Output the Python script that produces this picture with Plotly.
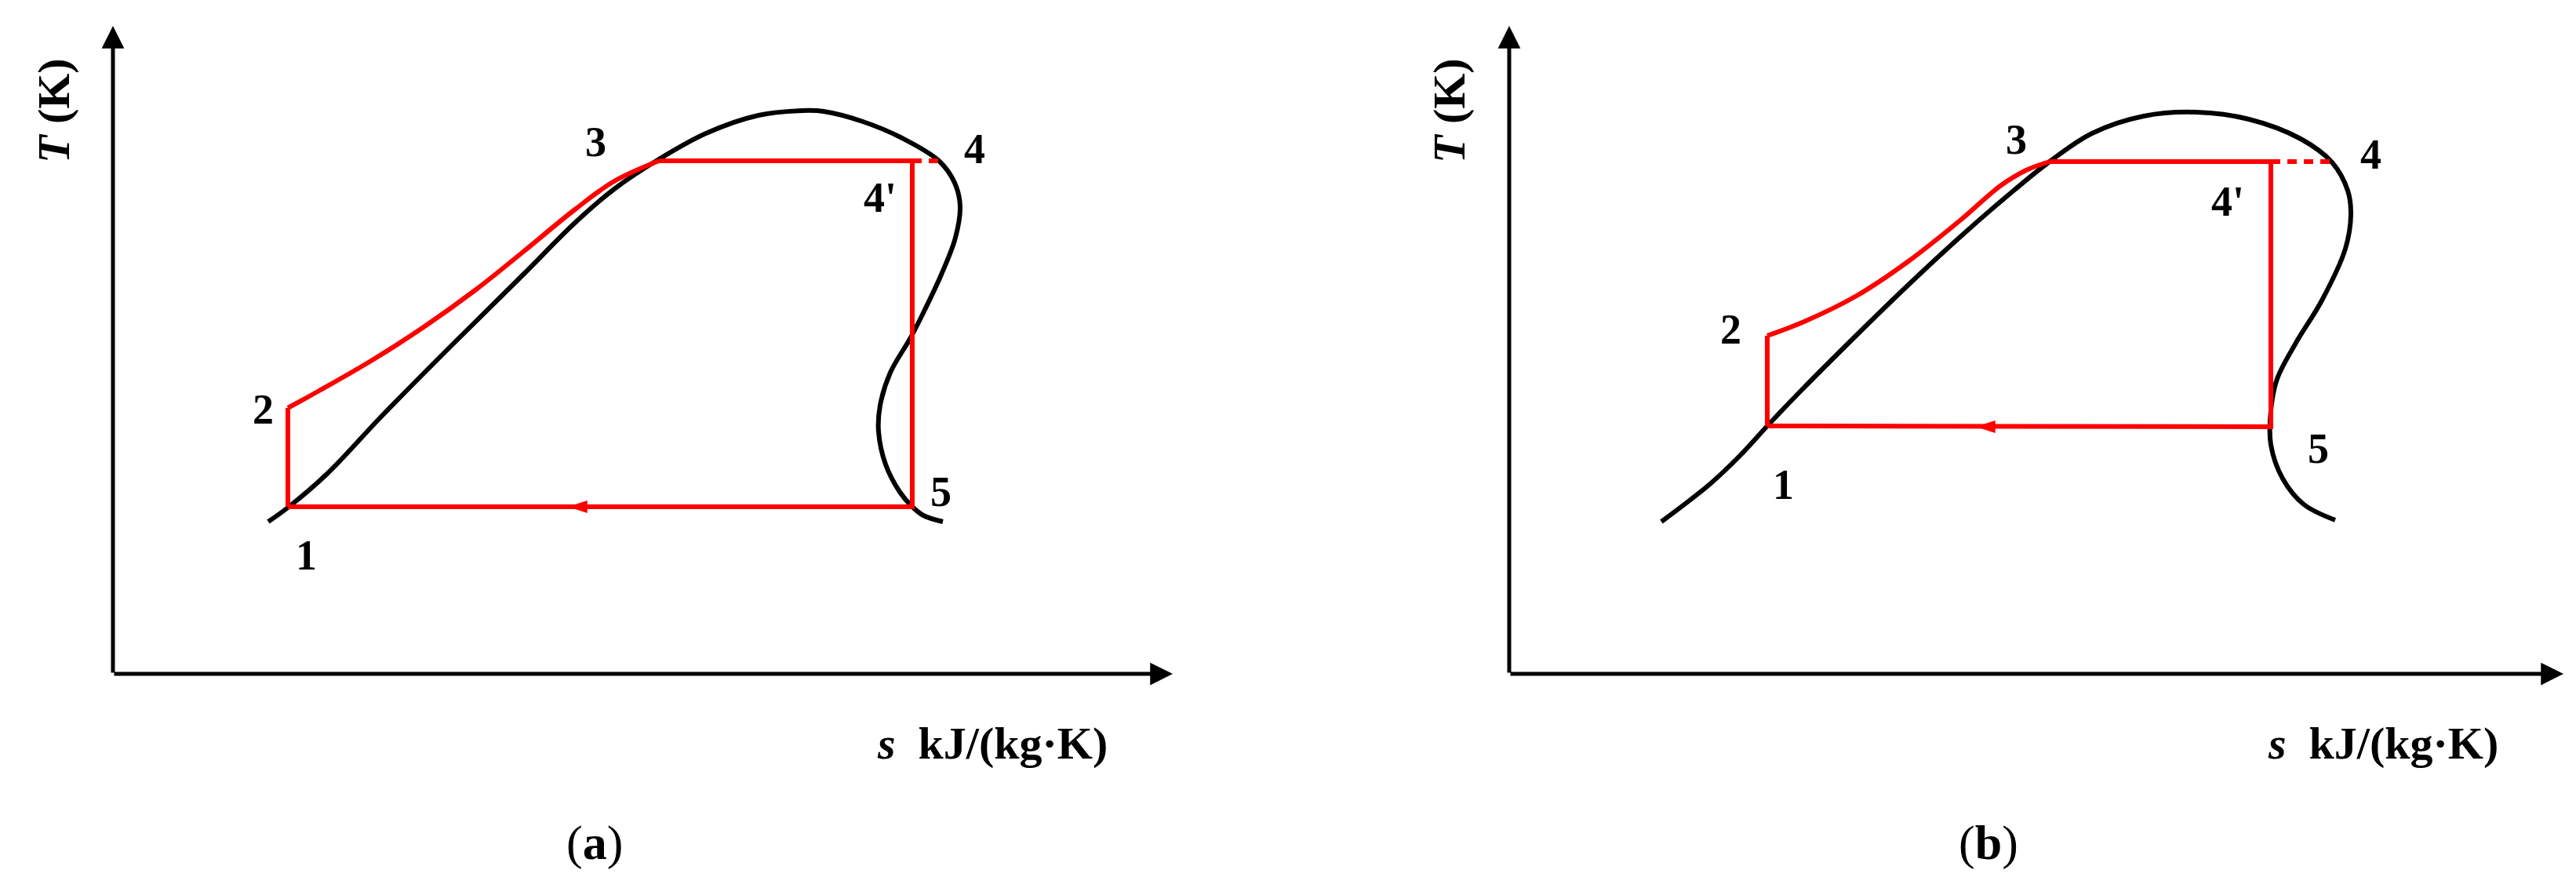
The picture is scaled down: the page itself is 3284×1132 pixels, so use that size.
import plotly.graph_objects as go

# ---------------- data (arbitrary s / T units) ----------------
# Panel (a): saturation curve
SAT_A_S = [1.98, 2.23, 2.73, 3.43, 4.29, 5.23, 5.89, 6.39, 6.96, 7.56, 8.23, 8.79, 9.06,
           9.56, 10.06, 10.53, 10.73, 10.80, 10.74, 10.56, 10.31, 10.16, 9.91, 9.78, 9.76,
           9.85, 10.03, 10.18, 10.33, 10.58]
SAT_A_T = [1.94, 2.12, 2.55, 3.29, 4.16, 5.09, 5.75, 6.18, 6.56, 6.89, 7.12, 7.18, 7.17,
           7.04, 6.83, 6.54, 6.26, 5.96, 5.56, 5.09, 4.56, 4.27, 3.84, 3.42, 3.09,
           2.67, 2.32, 2.14, 2.02, 1.94]
# Panel (a): cycle state points 1, 2, 3, 4', 4, 5
STATE_A_S = [2.23, 2.23, 6.96, 10.19, 10.53, 10.19]
STATE_A_T = [2.13, 3.39, 6.54, 6.54, 6.54, 2.13]
# Panel (a): heating curve 2 -> 3
HEAT_A_S = [2.23, 2.63, 3.29, 3.96, 4.63, 5.23, 5.89, 6.39, 6.96]
HEAT_A_T = [3.39, 3.61, 3.99, 4.42, 4.90, 5.38, 5.92, 6.28, 6.54]
FLOW_ARROW_A = (5.80, 2.13)

# Panel (b): saturation curve
SAT_B_S = [1.94, 2.56, 2.96, 3.29, 3.73, 4.40, 5.09, 5.76, 6.43, 6.89, 7.43, 8.09, 8.76, 9.43,
           10.09, 10.49, 10.69, 10.73, 10.66, 10.36, 10.03, 9.79, 9.71, 9.71, 9.86, 10.13, 10.53]
SAT_B_T = [1.94, 2.42, 2.80, 3.16, 3.62, 4.29, 4.96, 5.58, 6.16, 6.53, 6.89, 7.11, 7.16, 7.07,
           6.82, 6.52, 6.16, 5.86, 5.42, 4.76, 4.22, 3.76, 3.36, 2.92, 2.49, 2.16, 1.96]
STATE_B_S = [3.29, 3.29, 6.89, 9.71, 10.49, 9.71]
STATE_B_T = [3.16, 4.31, 6.53, 6.53, 6.53, 3.15]
HEAT_B_S = [3.29, 3.76, 4.43, 5.09, 5.76, 6.26, 6.59, 6.89]
HEAT_B_T = [4.31, 4.49, 4.82, 5.26, 5.79, 6.22, 6.42, 6.53]
FLOW_ARROW_B = (5.95, 3.15)

STATE_LABELS = ["1", "2", "3", "4'", "4", "5"]
LABEL_A_S = [2.46, 1.91, 6.15, 9.78, 10.98, 10.55]
LABEL_A_T = [1.51, 3.37, 6.78, 6.07, 6.69, 2.32]
LABEL_B_S = [3.49, 2.82, 6.46, 9.16, 10.98, 10.31]
LABEL_B_T = [2.41, 4.39, 6.81, 6.02, 6.62, 2.87]

AXIS_S_MAX = [13.51, 13.44]
AXIS_T_MAX = 8.26
PANEL_TAGS = ["a", "b"]
Y_TITLE = "<b><i>T</i> (K)</b>"
X_TITLE = "<b><i>s</i>\u00a0\u00a0kJ/(kg·K)</b>"

RED = "#FF0000"
FONT = "Liberation Serif"
LW = 6

fig = go.Figure()

panels = [
    dict(xa="x", ya="y", sat=(SAT_A_S, SAT_A_T), st=(STATE_A_S, STATE_A_T),
         heat=(HEAT_A_S, HEAT_A_T), arrow=FLOW_ARROW_A, lab=(LABEL_A_S, LABEL_A_T),
         title_x=(-0.76, 7.18), xlab=(9.72, -0.88), tag=(6.14, -2.15)),
    dict(xa="x2", ya="y2", sat=(SAT_B_S, SAT_B_T), st=(STATE_B_S, STATE_B_T),
         heat=(HEAT_B_S, HEAT_B_T), arrow=FLOW_ARROW_B, lab=(LABEL_B_S, LABEL_B_T),
         title_x=(-0.77, 7.18), xlab=(9.65, -0.88), tag=(6.11, -2.15)),
]

for i, p in enumerate(panels):
    xa, ya = p["xa"], p["ya"]
    ss, tt = p["st"]
    # axes with arrows
    fig.add_annotation(x=0, y=AXIS_T_MAX, ax=0, ay=0, xref=xa, yref=ya, axref=xa, ayref=ya,
                       text="", showarrow=True, arrowhead=2, arrowwidth=5, arrowsize=1.15,
                       arrowcolor="black", standoff=0)
    fig.add_annotation(x=AXIS_S_MAX[i], y=0, ax=0, ay=0, xref=xa, yref=ya, axref=xa, ayref=ya,
                       text="", showarrow=True, arrowhead=2, arrowwidth=5, arrowsize=1.15,
                       arrowcolor="black", standoff=0)
    # saturation dome
    fig.add_trace(go.Scatter(x=p["sat"][0], y=p["sat"][1], mode="lines",
                             line=dict(color="black", width=LW, shape="spline", smoothing=1.0),
                             xaxis=xa, yaxis=ya, showlegend=False, hoverinfo="skip"))
    # 1 -> 2
    fig.add_trace(go.Scatter(x=[ss[0], ss[1]], y=[tt[0], tt[1]], mode="lines",
                             line=dict(color=RED, width=LW), xaxis=xa, yaxis=ya,
                             showlegend=False, hoverinfo="skip"))
    # 2 -> 3
    fig.add_trace(go.Scatter(x=p["heat"][0], y=p["heat"][1], mode="lines",
                             line=dict(color=RED, width=LW, shape="spline", smoothing=1.0),
                             xaxis=xa, yaxis=ya, showlegend=False, hoverinfo="skip"))
    # 3 -> 4' -> 5 -> 1
    fig.add_trace(go.Scatter(x=[ss[2], ss[3], ss[5], ss[0]], y=[tt[2], tt[3], tt[5], tt[0]],
                             mode="lines", line=dict(color=RED, width=LW),
                             xaxis=xa, yaxis=ya, showlegend=False, hoverinfo="skip"))
    # 4' -> 4 dashed
    fig.add_trace(go.Scatter(x=[ss[3], ss[4]], y=[tt[3], tt[4]], mode="lines",
                             line=dict(color=RED, width=LW, dash="12px,9px"),
                             xaxis=xa, yaxis=ya, showlegend=False, hoverinfo="skip"))
    # flow arrow on 5 -> 1
    fig.add_trace(go.Scatter(x=[p["arrow"][0]], y=[p["arrow"][1]], mode="markers",
                             marker=dict(symbol="arrow", angle=-90, size=26, color=RED,
                                         line=dict(width=0)),
                             xaxis=xa, yaxis=ya, showlegend=False, hoverinfo="skip"))
    # state labels
    for lab, lx, ly in zip(STATE_LABELS, p["lab"][0], p["lab"][1]):
        fig.add_annotation(x=lx, y=ly, xref=xa, yref=ya, text=f"<b>{lab}</b>", showarrow=False,
                           font=dict(family=FONT, size=54, color="black"))
    # axis titles
    fig.add_annotation(x=p["title_x"][0], y=p["title_x"][1], xref=xa, yref=ya, text=Y_TITLE,
                       textangle=-90, showarrow=False, font=dict(family=FONT, size=58, color="black"))
    fig.add_annotation(x=p["xlab"][0], y=p["xlab"][1], xref=xa, yref=ya, text=X_TITLE,
                       xanchor="left", showarrow=False, font=dict(family=FONT, size=58, color="black"))
    fig.add_annotation(x=p["tag"][0], y=p["tag"][1], xref=xa, yref=ya,
                       text=f"(<b>{PANEL_TAGS[i]}</b>)", showarrow=False,
                       font=dict(family=FONT, size=62, color="black"))

axis_common = dict(visible=False, showgrid=False, zeroline=False, fixedrange=True)
fig.update_layout(
    width=3284, height=1132,
    margin=dict(l=0, r=0, t=0, b=0),
    paper_bgcolor="white", plot_bgcolor="white",
    xaxis=dict(domain=[0, 0.5], range=[-1.44, 14.98], **axis_common),
    xaxis2=dict(domain=[0.5, 1], range=[-2.82, 13.60], **axis_common),
    yaxis=dict(domain=[0, 1], range=[-2.73, 8.59], anchor="x", **axis_common),
    yaxis2=dict(domain=[0, 1], range=[-2.73, 8.59], anchor="x2", **axis_common),
)

fig.write_html("out.html", config={"displayModeBar": False},
               post_script="document.body.style.margin='0px';document.body.style.overflow='hidden';")
